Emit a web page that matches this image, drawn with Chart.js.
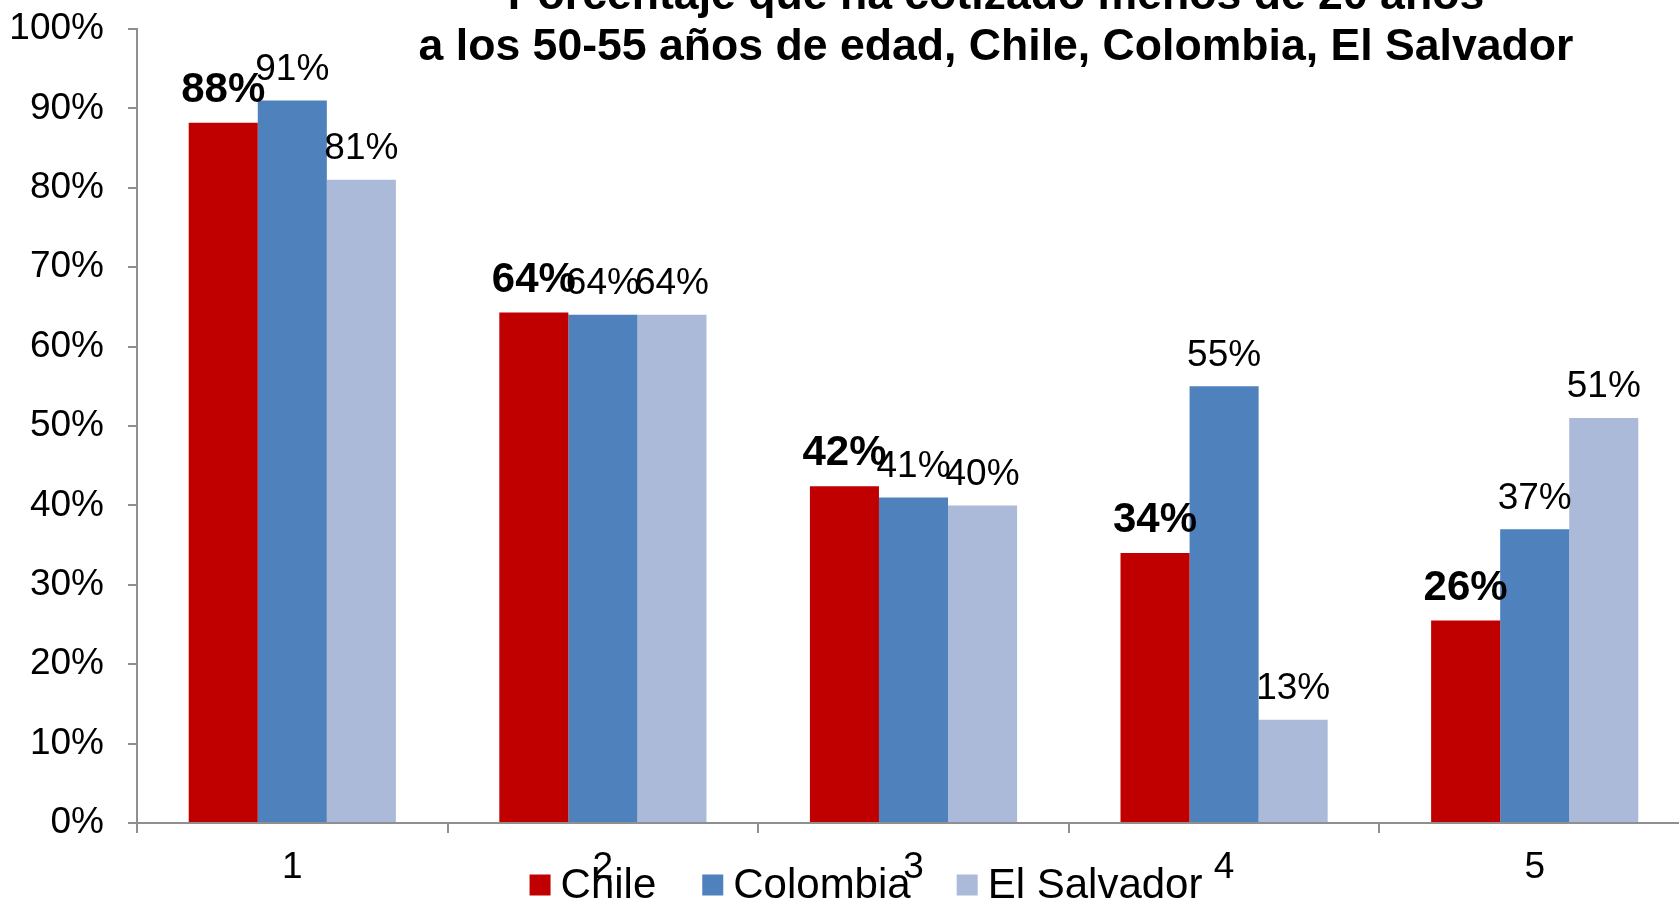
<!DOCTYPE html>
<html>
<head>
<meta charset="utf-8">
<script src="https://cdn.jsdelivr.net/npm/chart.js@4"></script>
<style>
  html, body { margin: 0; padding: 0; background: #fff; overflow: hidden; }
  #wrap { width: 1700px; height: 902px; }
</style>
</head>
<body>
<div id="wrap"><canvas id="c" width="1700" height="902"></canvas></div>
<script>
const categories = ['1', '2', '3', '4', '5'];
const seriesNames = ['Chile', 'Colombia', 'El Salvador'];
const chile = [88.2, 64.3, 42.4, 34.0, 25.5];
const colombia = [91.0, 64.0, 41.0, 55.0, 37.0];
const elSalvador = [81.0, 64.0, 40.0, 13.0, 51.0];
const titleLines = ['Porcentaje que ha cotizado menos de 20 años', 'a los 50-55 años de edad, Chile, Colombia, El Salvador'];
const yTickValues = [0, 10, 20, 30, 40, 50, 60, 70, 80, 90, 100];

const colors = ['#C00000', '#4F81BD', '#ABBAD9'];
const FONT = '"Liberation Sans", Arial, Helvetica, sans-serif';

const labelPlugin = {
  id: 'barLabels',
  afterDatasetsDraw(chart) {
    const ctx = chart.ctx;
    ctx.save();
    ctx.fillStyle = '#000';
    ctx.textAlign = 'center';
    ctx.textBaseline = 'middle';
    chart.data.datasets.forEach((ds, di) => {
      const meta = chart.getDatasetMeta(di);
      ctx.font = (di === 0 ? 'bold 42px ' : '37px ') + FONT;
      const off = di === 0 ? 32.5 : 30.8;
      meta.data.forEach((el, i) => {
        ctx.fillText(Math.round(ds.data[i]) + '%', el.x, el.y - off);
      });
    });
    ctx.restore();
  }
};

const titleLegendPlugin = {
  id: 'titleLegend',
  afterDraw(chart) {
    const ctx = chart.ctx;
    ctx.save();
    // title
    ctx.fillStyle = '#000';
    ctx.font = 'bold 44.6px ' + FONT;
    ctx.textAlign = 'center';
    ctx.textBaseline = 'alphabetic';
    ctx.fillText(titleLines[0], 996, 9);
    ctx.fillText(titleLines[1], 996, 60);
    // legend
    ctx.font = '42px ' + FONT;
    ctx.textAlign = 'left';
    ctx.textBaseline = 'middle';
    const box = 21, gap = 10, spacing = 46;
    let total = 0;
    seriesNames.forEach((n, i) => {
      total += box + gap + ctx.measureText(n).width + (i < seriesNames.length - 1 ? spacing : 0);
    });
    let x = 866 - total / 2;
    const cy = 885;
    seriesNames.forEach((n, i) => {
      ctx.fillStyle = colors[i];
      ctx.fillRect(x, cy - box / 2, box, box);
      x += box + gap;
      ctx.fillStyle = '#000';
      ctx.fillText(n, x, cy + 1);
      x += ctx.measureText(n).width + spacing;
    });
    ctx.restore();
  }
};

new Chart(document.getElementById('c'), {
  type: 'bar',
  data: {
    labels: categories,
    datasets: [
      { label: seriesNames[0], data: chile, backgroundColor: colors[0] },
      { label: seriesNames[1], data: colombia, backgroundColor: colors[1] },
      { label: seriesNames[2], data: elSalvador, backgroundColor: colors[2] }
    ]
  },
  options: {
    responsive: false,
    devicePixelRatio: 1,
    animation: false,
    layout: { padding: { top: 29, right: 10, bottom: 0, left: 0 } },
    datasets: { bar: { categoryPercentage: 0.667, barPercentage: 1.0 } },
    plugins: { legend: { display: false }, title: { display: false }, tooltip: { enabled: false } },
    scales: {
      x: {
        offset: true,
        grid: { offset: true, drawOnChartArea: false, drawTicks: true, tickLength: 10, color: '#8f8f8f', lineWidth: 2 },
        border: { display: true, color: '#8f8f8f', width: 2 },
        ticks: { color: '#000', font: { size: 37, family: FONT }, padding: 13, maxRotation: 0 },
        afterFit(scale) { scale.height = 79; }
      },
      y: {
        min: 0, max: 100,
        afterBuildTicks(scale) { scale.ticks = yTickValues.map(v => ({ value: v })); },
        grid: { drawOnChartArea: false, drawTicks: true, tickLength: 9, color: '#8f8f8f', lineWidth: 2 },
        border: { display: true, color: '#8f8f8f', width: 2 },
        ticks: { color: '#000', font: { size: 37, family: FONT }, padding: 24, callback: v => v + '%' },
        afterFit(scale) { scale.width = 137; scale.paddingTop = 0; scale.paddingBottom = 0; }
      }
    }
  },
  plugins: [labelPlugin, titleLegendPlugin]
});
</script>
</body>
</html>
